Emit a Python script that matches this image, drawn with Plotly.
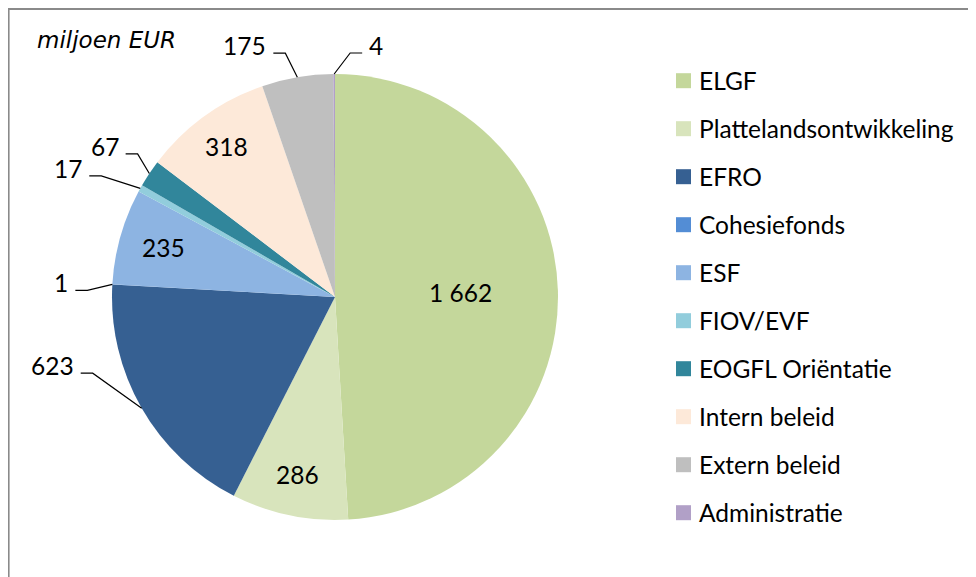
import math
import plotly.graph_objects as go

# ---- data ----
categories = ["ELGF", "Plattelandsontwikkeling", "EFRO", "Cohesiefonds", "ESF",
              "FIOV/EVF", "EOGFL Oriëntatie", "Intern beleid", "Extern beleid", "Administratie"]
values = [1662, 286, 623, 1, 235, 17, 67, 318, 175, 4]
unit_label = "miljoen EUR"

# ---- style ----
colors = ["#C4D79B", "#D8E4BC", "#366092", "#538DD5", "#8DB4E2",
          "#92CDDC", "#31869B", "#FDE9D9", "#BFBFBF", "#B1A0C7"]
# label placement: ("in", radius factor) or ("out", elbow dx, elbow dy, side)
label_style = [("in", 0.565), ("in", 0.82), ("out", -49, -35, -1), ("out", -25, 6, -1),
               ("in", 0.80), ("out", -39, -12.5, -1), ("out", -11.7, -19.6, -1),
               ("in", 0.83), ("out", -12, -24, -1), ("out", 16, -21, 1)]
FONT = "Lato"
FS = 24.5
OFF = 8                      # browser body margin
W, H = 976, 577              # window size (reference pixel space)
FW, FH = W - OFF, H - OFF    # figure size
CX, CY, R = 335, 297, 223


def px(x):
    return (x - OFF) / FW


def py(y):
    return 1 - (y - OFF) / FH


def fmt(v):
    return f"{v:,}".replace(",", " ")


fig = go.Figure()
fig.add_trace(go.Pie(
    labels=categories, values=values, sort=False, direction="clockwise", rotation=0,
    marker=dict(colors=colors, line=dict(width=0)), textinfo="none", hoverinfo="label+value",
    showlegend=False,
    domain=dict(x=[px(CX - R), px(CX + R)], y=[py(CY + R), py(CY - R)]),
))

shapes = []
annotations = []
total = sum(values)
cum = 0
for i, v in enumerate(values):
    mid = (cum + v / 2) / total * 2 * math.pi
    cum += v
    s, c = math.sin(mid), math.cos(mid)
    st = label_style[i]
    if st[0] == "in":
        x = CX + st[1] * R * s
        y = CY - st[1] * R * c
        annotations.append(dict(x=px(x), y=py(y - 1), xref="paper", yref="paper", text=fmt(v),
                                showarrow=False, xanchor="center", yanchor="middle",
                                font=dict(family=FONT, size=FS, color="black")))
    else:
        ex0, ey0 = CX + R * s, CY - R * c
        ex1, ey1 = ex0 + st[1], ey0 + st[2]
        side = st[3]
        ex2 = ex1 + side * 12
        shapes.append(dict(type="path", xref="paper", yref="paper",
                           path=f"M{px(ex0)},{py(ey0)} L{px(ex1)},{py(ey1)} L{px(ex2)},{py(ey1)}",
                           line=dict(color="black", width=1.2)))
        annotations.append(dict(x=px(ex2 + side * 5), y=py(ey1 - 7.5), xref="paper", yref="paper",
                                text=fmt(v), showarrow=False,
                                xanchor="left" if side > 0 else "right", yanchor="middle",
                                font=dict(family=FONT, size=FS, color="black")))

# legend (manual)
LX, LY0, LSTEP, LSQ = 676, 80.7, 48, 15
for i, (cat, col) in enumerate(zip(categories, colors)):
    yc = LY0 + i * LSTEP
    shapes.append(dict(type="rect", xref="paper", yref="paper",
                       x0=px(LX), x1=px(LX + LSQ), y0=py(yc + LSQ / 2), y1=py(yc - LSQ / 2),
                       fillcolor=col, line=dict(width=0)))
    annotations.append(dict(x=px(697), y=py(yc - 0.5), xref="paper", yref="paper", text=cat,
                            showarrow=False, xanchor="left", yanchor="middle",
                            font=dict(family=FONT, size=FS, color="black")))

annotations.append(dict(x=px(35), y=py(40), xref="paper", yref="paper", text=f"<i>{unit_label}</i>",
                        showarrow=False, xanchor="left", yanchor="middle",
                        font=dict(family="DejaVu Sans", size=23, color="black")))

# outer frame
shapes.append(dict(type="rect", xref="paper", yref="paper", x0=px(8.6), y0=py(9), x1=px(1000), y1=py(620),
                   line=dict(color="#8A8A8A", width=2), fillcolor="rgba(0,0,0,0)"))

fig.update_layout(width=FW, height=FH, margin=dict(l=0, r=0, t=0, b=0),
                  paper_bgcolor="white", plot_bgcolor="white",
                  shapes=shapes, annotations=annotations)
fig.write_html("out.html")
